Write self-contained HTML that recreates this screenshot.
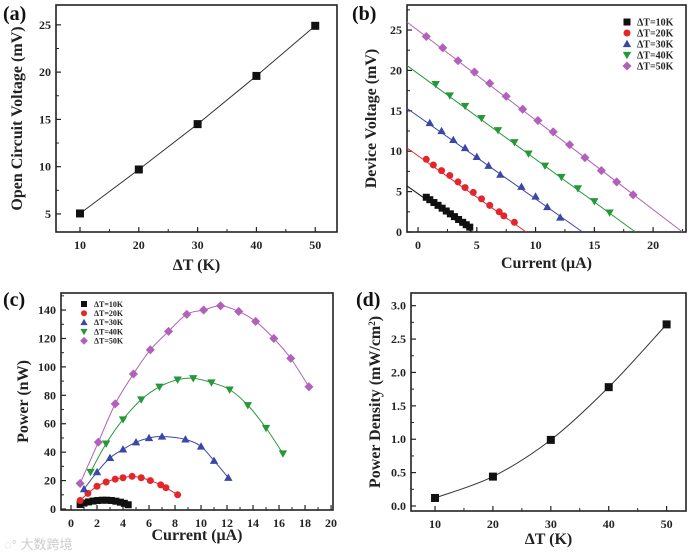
<!DOCTYPE html>
<html><head><meta charset="utf-8"><style>
body{margin:0;background:#fff}
svg{display:block;font-family:"Liberation Serif",serif;font-weight:bold}
</style></head><body>
<svg id="fig" width="693" height="555" viewBox="0 0 693 555" xmlns="http://www.w3.org/2000/svg"></svg>
<script>
// ---- data ----
const dT = [10, 20, 30, 40, 50];
const vocValues = [5.05, 9.7, 14.5, 19.6, 24.9];
const powerDensity = [0.12, 0.44, 0.99, 1.78, 2.72];
const seriesLabels = ['ΔT=10K','ΔT=20K','ΔT=30K','ΔT=40K','ΔT=50K'];
// (b) fit lines: voltage at I=-0.94 and zero-crossing current
const fitV0 = [5.7, 10.4, 15.3, 20.6, 26.0];
const fitIsc = [4.6, 9.2, 14.0, 18.5, 22.5];
const cur10 = [0.7,1.0,1.35,1.7,2.05,2.4,2.75,3.1,3.45,3.8,4.1,4.4];
const vol10 = [4.3,4.0,3.65,3.3,2.95,2.6,2.25,1.9,1.55,1.2,0.9,0.6];
const cur20 = [0.7,1.3,2.0,2.7,3.4,4.0,4.7,5.4,6.1,6.9,7.3,8.2];
const vol20 = [9.0,8.3,7.6,7.0,6.2,5.5,4.9,4.1,3.3,2.5,2.0,1.2];
const cur30 = [1.0,2.0,3.0,4.0,5.0,6.0,7.0,8.8,10.0,11.0,12.1];
const vol30 = [13.5,12.5,11.4,10.4,9.3,8.2,7.1,5.6,4.4,3.1,1.8];
const cur40 = [1.5,2.7,4.0,5.4,6.8,8.2,9.4,10.8,12.2,13.6,15.0,16.3];
const vol40 = [18.3,16.9,15.6,14.1,12.6,11.1,9.7,8.2,6.8,5.4,3.8,2.4];
const cur50 = [0.7,2.1,3.4,4.8,6.1,7.5,8.9,10.2,11.5,12.9,14.2,15.6,16.9,18.3];
const vol50 = [24.2,22.8,21.2,19.8,18.4,16.8,15.2,13.8,12.4,10.8,9.2,7.6,6.2,4.6];
// (c) power
const pw10 = [3.2,4.2,5.0,5.6,6.0,6.2,6.2,6.0,5.5,4.8,4.0,3.0];
const pw20 = [6,11,16,19,21,22,23,22,20,17,15,10];
const pw30 = [14,26,36,42,47,50,51,49,44,34,22];
const pw40 = [26,46,63,77,86,91,92,89,84,73,57,39];
const pw50 = [18,47,74,95,112,125,137,140,143,139,132,120,106,86];
const xTicksA = [10,20,30,40,50], yTicksA = [5,10,15,20,25];
const xTicksB = [0,5,10,15,20], yTicksB = [0,5,10,15,20,25];
const xTicksC = [0,2,4,6,8,10,12,14,16,18,20], yTicksC = [0,20,40,60,80,100,120,140];
const xTicksD = [10,20,30,40,50], yTicksD = [0,0.5,1.0,1.5,2.0,2.5,3.0];

const colors = ['#111','#e3262b','#3a47a6','#27983a','#b261b8'];
const shapes = ['square','circle','tri','tridown','diamond'];
const NS='http://www.w3.org/2000/svg';
const svg=document.getElementById('fig');
function el(tag,attrs,parent){const e=document.createElementNS(NS,tag);for(const k in attrs)e.setAttribute(k,attrs[k]);(parent||svg).appendChild(e);return e;}

function makePanel(o){
  const g=el('g',{});
  
  
  const sx=v=>o.x0+(v-o.xmin)/(o.xmax-o.xmin)*(o.x1-o.x0);
  const sy=v=>o.y1-(v-o.ymin)/(o.ymax-o.ymin)*(o.y1-o.y0);
  const frame=el('rect',{x:o.x0,y:o.y0,width:o.x1-o.x0,height:o.y1-o.y0,fill:'none',stroke:'#222','stroke-width':1.6},g);
  
  
  const xa=el('g',{},g);
  
  
  const step=o.xt[1]-o.xt[0];
  o.xt.forEach((t,i)=>{
    const x=sx(t);
    el('line',{x1:x,x2:x,y1:o.y1,y2:o.y1-5,stroke:'#222','stroke-width':1.2},xa);
    const m=t+step/2; if(m<o.xmax) el('line',{x1:sx(m),x2:sx(m),y1:o.y1,y2:o.y1-3,stroke:'#222','stroke-width':1},xa);
    const tl=el('text',{x:x,y:o.y1+17,'font-size':12,'text-anchor':'middle',fill:'#222'},xa);
    tl.textContent=o.xfmt?o.xfmt(t):t;
    
    
  });
  const ya=el('g',{},g);
  
  
  const ys=o.yt[1]-o.yt[0];
  o.yt.forEach(t=>{
    const y=sy(t);
    el('line',{x1:o.x0,x2:o.x0+5,y1:y,y2:y,stroke:'#222','stroke-width':1.2},ya);
    const m=t+ys/2; if(m<o.ymax) el('line',{x1:o.x0,x2:o.x0+3,y1:sy(m),y2:sy(m),stroke:'#222','stroke-width':1},ya);
    const tl=el('text',{x:o.x0-5,y:y+4,'font-size':12,'text-anchor':'end',fill:'#222'},ya);
    tl.textContent=o.yfmt?o.yfmt(t):t;
    
    
  });
  const xt=el('text',{x:(o.x0+o.x1)/2,y:o.xtY,'font-size':16,'text-anchor':'middle',fill:'#222'},g);
  xt.textContent=o.xtitle;
  
  
  const yt=el('text',{x:0,y:0,'font-size':16,'text-anchor':'middle',fill:'#222',transform:`translate(${o.ytX},${(o.y0+o.y1)/2}) rotate(-90)`},g);
  yt.innerHTML=o.ytitle;
  
  
  const lb=el('text',{x:o.lbX,y:o.lbY,'font-size':20,fill:'#111'},g);
  lb.textContent=o.label;
  
  
  return {g,sx,sy};
}
function marker(g,shape,x,y,s,color){
  let e;
  if(shape==='square') e=el('rect',{x:x-s/2,y:y-s/2,width:s,height:s,fill:color},g);
  else if(shape==='circle') e=el('circle',{cx:x,cy:y,r:s/2,fill:color},g);
  else if(shape==='tri') e=el('polygon',{points:`${x},${y-s*0.6} ${x-s*0.6},${y+s*0.45} ${x+s*0.6},${y+s*0.45}`,fill:color},g);
  else if(shape==='tridown') e=el('polygon',{points:`${x},${y+s*0.6} ${x-s*0.6},${y-s*0.45} ${x+s*0.6},${y-s*0.45}`,fill:color},g);
  else e=el('polygon',{points:`${x},${y-s*0.65} ${x+s*0.65},${y} ${x},${y+s*0.65} ${x-s*0.65},${y}`,fill:color},g);
  return e;
}
function smoothPath(pts){
  let d=`M${pts[0][0]},${pts[0][1]}`;
  for(let i=0;i<pts.length-1;i++){
    const p0=pts[i-1]||pts[i],p1=pts[i],p2=pts[i+1],p3=pts[i+2]||p2;
    const c1=[p1[0]+(p2[0]-p0[0])/6,p1[1]+(p2[1]-p0[1])/6],c2=[p2[0]-(p3[0]-p1[0])/6,p2[1]-(p3[1]-p1[1])/6];
    d+=` C${c1[0]},${c1[1]} ${c2[0]},${c2[1]} ${p2[0]},${p2[1]}`;
  }
  return d;
}
function legend(g,x,y,dy,fs,ms){
  const lg=el('g',{},g);
  
  
  seriesLabels.forEach((l,i)=>{
    const it=el('g',{},lg);
    
    
    marker(it,shapes[i],x,y+i*dy,ms,colors[i]);
    const t=el('text',{x:x+10,y:y+i*dy+fs*0.35,'font-size':fs,fill:'#222'},it);
    t.textContent=l;
  });
}

// ---- (a) ----
const A=makePanel({name:'panel-a',x0:56,x1:337,y0:5,y1:232,xmin:5.92,xmax:53.7,ymin:3.09,ymax:27.1,xt:xTicksA,yt:yTicksA,xtitle:'ΔT (K)',xtY:270,ytitle:'Open Circuit Voltage (mV)',ytX:22,label:'(a)',lbX:3,lbY:20});
el('path',{d:'M'+dT.map((t,i)=>A.sx(t)+','+A.sy(vocValues[i])).join(' L'),fill:'none',stroke:'#333','stroke-width':1},A.g);
dT.forEach((t,i)=>{const m=marker(A.g,'square',A.sx(t),A.sy(vocValues[i]),8,'#111');});

// ---- (b) ----
const B=makePanel({name:'panel-b',x0:407,x1:686,y0:5,y1:232,xmin:-0.94,xmax:22.8,ymin:0,ymax:28.1,xt:xTicksB,yt:yTicksB,xtitle:'Current (μA)',xtY:268,ytitle:'Device Voltage (mV)',ytX:376,label:'(b)',lbX:352,lbY:20});
const curB=[cur10,cur20,cur30,cur40,cur50], volB=[vol10,vol20,vol30,vol40,vol50];
for(let s=0;s<5;s++){
  const ln=el('line',{x1:B.sx(-0.94),y1:B.sy(fitV0[s]),x2:B.sx(fitIsc[s]),y2:B.sy(0),stroke:colors[s],'stroke-width':1},B.g);
  
  
  curB[s].forEach((c,i)=>{const m=marker(B.g,shapes[s],B.sx(c),B.sy(volB[s][i]),7,colors[s]);});
}
legend(B.g,627,22,11,10,7);

// ---- (c) ----
const C=makePanel({name:'panel-c',x0:61,x1:333,y0:293,y1:510,xmin:-0.77,xmax:20.15,ymin:-0.7,ymax:152,xt:xTicksC,yt:yTicksC,xtitle:'Current (μA)',xtY:540,ytitle:'Power (nW)',ytX:28,label:'(c)',lbX:3,lbY:306});
const pwC=[pw10,pw20,pw30,pw40,pw50];
for(let s=0;s<5;s++){
  const pts=curB[s].map((c,i)=>[C.sx(c),C.sy(pwC[s][i])]);
  const p=el('path',{d:smoothPath(pts),fill:'none',stroke:colors[s],'stroke-width':1},C.g);
  
  
  pts.forEach(q=>{const m=marker(C.g,shapes[s],q[0],q[1],7,colors[s]);});
}
legend(C.g,84,304,9.2,8,6);

// ---- (d) ----
const D=makePanel({name:'panel-d',x0:411,x1:686,y0:293,y1:511,xmin:5.85,xmax:53.35,ymin:-0.075,ymax:3.19,xt:xTicksD,yt:yTicksD,xtitle:'ΔT (K)',xtY:544,ytitle:'Power Density (mW/cm<tspan dy="-5" font-size="9">2</tspan><tspan dy="5">)</tspan>',ytX:380,label:'(d)',lbX:356,lbY:306,yfmt:v=>v.toFixed(1)});
el('path',{d:smoothPath(dT.map((t,i)=>[D.sx(t),D.sy(powerDensity[i])])),fill:'none',stroke:'#333','stroke-width':1},D.g);
dT.forEach((t,i)=>{const m=marker(D.g,'square',D.sx(t),D.sy(powerDensity[i]),8,'#111');});

const wm=el('text',{x:4,y:549,'font-size':13,fill:'#ccc','font-family':'"Liberation Sans","Noto Sans CJK SC",sans-serif','font-weight':'normal'});
wm.textContent='◌° 大数跨境';


</script>
</body></html>
